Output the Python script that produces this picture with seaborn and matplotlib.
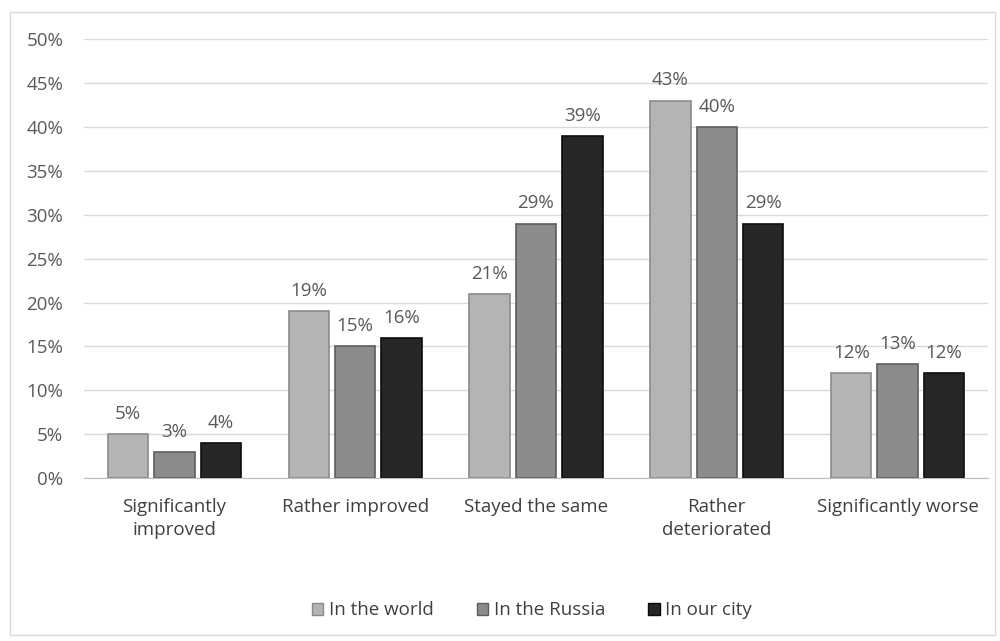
import pandas as pd
import numpy as np
import matplotlib.pyplot as plt
import matplotlib.patches as mpatches
import seaborn as sns

categories = ['Significantly\nimproved', 'Rather improved', 'Stayed the same',
              'Rather\ndeteriorated', 'Significantly worse']
series = ['In the world', 'In the Russia', 'In our city']
world = [5, 19, 21, 43, 12]
russia = [3, 15, 29, 40, 13]
city = [4, 16, 39, 29, 12]

df = pd.DataFrame({
    'category': categories * 3,
    'series': np.repeat(series, len(categories)),
    'value': np.array(world + russia + city) / 100,
})

colors = ['#b4b4b4', '#8c8c8c', '#262626']
edges = ['#8a8a8a', '#5e5e5e', '#0d0d0d']
text_color = '#595959'
fs = 13.5

sns.set_style('white')
plt.rcParams['font.family'] = ['Open Sans', 'DejaVu Sans']

fig = plt.figure(figsize=(10, 6.41), dpi=100)
ax = fig.add_axes([0.084, 0.254, 0.904, 0.685])

sns.barplot(data=df, x='category', y='value', hue='series', hue_order=series,
            palette=colors, width=0.77, gap=0.13, ax=ax, legend=False)

for cont, ec in zip(ax.containers, edges):
    for bar in cont:
        bar.set_edgecolor(ec)
        bar.set_linewidth(1.2)
    ax.bar_label(cont, labels=[f'{v * 100:.0f}%' for v in cont.datavalues],
                 padding=8, color=text_color, fontsize=fs)

ax.set_ylim(0, 0.5)
ax.set_xlim(-0.5, 4.5)
ax.set_yticks(np.arange(0, 0.51, 0.05))
ax.set_yticklabels([f'{t}%' for t in range(0, 51, 5)])
ax.yaxis.grid(True, color='#d9d9d9', linewidth=1)
ax.set_axisbelow(True)
ax.tick_params(axis='y', length=0, labelcolor=text_color, labelsize=fs, pad=15)
ax.tick_params(axis='x', length=0, labelcolor='#404040', labelsize=fs, pad=14)
for lbl in ax.get_xticklabels():
    lbl.set_linespacing(1.35)
ax.set_xlabel('')
ax.set_ylabel('')
for side in ['top', 'right', 'left']:
    ax.spines[side].set_visible(False)
ax.spines['bottom'].set_color('#bfbfbf')

handles = [mpatches.Patch(facecolor=c, edgecolor=e, label=s)
           for c, e, s in zip(colors, edges, series)]
fig.legend(handles=handles, loc='center', bbox_to_anchor=(0.532, 0.048), ncol=3,
           frameon=False, fontsize=fs, labelcolor='#404040', handlelength=0.6,
           handleheight=0.6, handletextpad=0.3, columnspacing=2.3)

fig.patches.append(mpatches.Rectangle((0.01, 0.009), 0.985, 0.972, transform=fig.transFigure,
                                      fill=False, edgecolor='#d9d9d9', linewidth=1))

plt.savefig('out.png', dpi=100)
